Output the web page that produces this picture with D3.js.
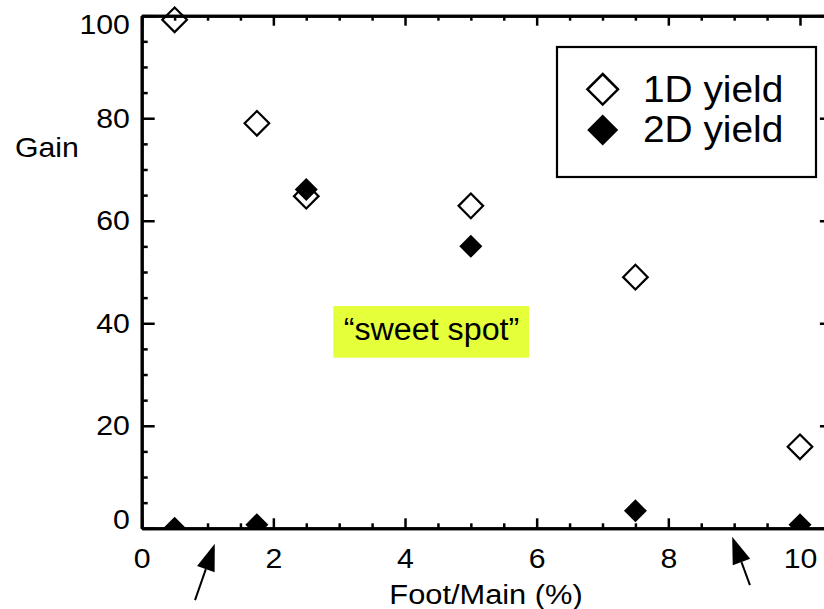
<!DOCTYPE html>
<html>
<head>
<meta charset="utf-8">
<script src="https://cdn.jsdelivr.net/npm/d3@7"></script>
<style>
  body { margin: 0; background: #fff; }
  svg { display: block; }
  text { font-family: "Liberation Sans", Arial, Helvetica, sans-serif; fill: #000; }
</style>
</head>
<body>
<svg id="chart" width="824" height="609"></svg>
<script>
// data
var footMain = [0.5, 1.75, 2.5, 5, 7.5, 10];
var yield1D  = [99.2, 79, 64.8, 62.9, 49, 15.9];
var yield2D  = [0, 0.7, 66.1, 55, 3.4, 0.7];
var xMajor = [0, 2, 4, 6, 8, 10];
var yMajor = [0, 20, 40, 60, 80, 100];
var legendLabels = ["1D yield", "2D yield"];
// the two arrows under the axis: tail and tip, in data units
var arrows = [
  {x0: 0.81, y0: -14, x1: 1.11, y1: -3},
  {x0: 9.24, y0: -11.1, x1: 8.97, y1: -1.64}
];
var note = "\u201csweet spot\u201d";

var svg = d3.select("#chart"),
    plotL = 141.7, plotR = 832.9, plotT = 15.7, plotB = 528.3;

var x = d3.scaleLinear().domain([0, 10.5]).range([plotL, plotR]);
var y = d3.scaleLinear().domain([0, 100]).range([plotB, plotT]);

var xMinor = d3.range(0, 10.51, 0.5).filter(function(v) { return v % 2 !== 0; });
var yMinor = d3.range(0, 100.1, 5).filter(function(v) { return v % 20 !== 0; });

function diamond(r) {
  return "M0," + (-r) + "L" + r + ",0L0," + r + "L" + (-r) + ",0Z";
}

// highlight box
svg.append("rect")
  .attr("x", 333.3).attr("y", 306)
  .attr("width", 195.7).attr("height", 51.7)
  .attr("fill", "#e6ff3b");
svg.append("text")
  .attr("transform", "translate(431.5,340) scale(1.04,1)")
  .attr("text-anchor", "middle")
  .style("font-size", "31px")
  .text(note);

// markers, clipped at the bottom axis
svg.append("clipPath").attr("id", "clip")
  .append("rect").attr("x", 0).attr("y", 0).attr("width", 824).attr("height", plotB);

var marks = svg.append("g").attr("clip-path", "url(#clip)");

marks.selectAll(".m2").data(footMain).enter().append("path")
  .attr("class", "m2")
  .attr("transform", function(d, i) { return "translate(" + x(d) + "," + y(yield2D[i]) + ")"; })
  .attr("d", diamond(11.5))
  .attr("fill", "#000");

marks.selectAll(".m1").data(footMain).enter().append("path")
  .attr("class", "m1")
  .attr("transform", function(d, i) { return "translate(" + x(d) + "," + y(yield1D[i]) + ")"; })
  .attr("d", diamond(12.3))
  .attr("fill", "none")
  .attr("stroke", "#000")
  .attr("stroke-width", 2.2);

// axes
function styleAxis(g) {
  g.select(".domain").attr("stroke-width", 3);
  g.selectAll(".tick line").attr("stroke-width", 2.5);
  g.selectAll(".tick text").style("font-size", "28px").attr("fill", "#000");
}

svg.append("g").attr("transform", "translate(0," + plotB + ")")
  .call(d3.axisBottom(x).tickValues(xMinor).tickSize(-5).tickSizeOuter(0).tickFormat(""))
  .call(styleAxis);
svg.append("g").attr("transform", "translate(0," + plotB + ")")
  .call(d3.axisBottom(x).tickValues(xMajor).tickSize(-10).tickSizeOuter(0).tickPadding(20).tickFormat(d3.format("d")))
  .call(styleAxis)
  .selectAll(".tick text").attr("transform", "scale(1.08,1)");

svg.append("g").attr("transform", "translate(0," + plotT + ")")
  .call(d3.axisTop(x).tickValues(xMinor).tickSize(-5).tickSizeOuter(0).tickFormat(""))
  .call(styleAxis);
svg.append("g").attr("transform", "translate(0," + plotT + ")")
  .call(d3.axisTop(x).tickValues(xMajor).tickSize(-10).tickSizeOuter(0).tickFormat(""))
  .call(styleAxis);

svg.append("g").attr("transform", "translate(" + plotL + ",0)")
  .call(d3.axisLeft(y).tickValues(yMinor).tickSize(-6).tickSizeOuter(0).tickFormat(""))
  .call(styleAxis);
var yAx = svg.append("g").attr("transform", "translate(" + plotL + ",0)")
  .call(d3.axisLeft(y).tickValues(yMajor).tickSize(-13).tickSizeOuter(0).tickPadding(11).tickFormat(d3.format("d")))
  .call(styleAxis);
yAx.selectAll(".tick text")
  .attr("transform", function(d) {
    var shift = d === 0 ? -9 : (d === 100 ? 9 : 0);
    return "translate(0," + shift + ") scale(1.08,1)";
  });

svg.append("g").attr("transform", "translate(" + plotR + ",0)")
  .call(d3.axisRight(y).tickValues(yMinor).tickSize(-6).tickSizeOuter(0).tickFormat(""))
  .call(styleAxis);
svg.append("g").attr("transform", "translate(" + plotR + ",0)")
  .call(d3.axisRight(y).tickValues(yMajor).tickSize(-13).tickSizeOuter(0).tickFormat(""))
  .call(styleAxis);

// axis titles
svg.append("text")
  .attr("transform", "translate(15,156.7) scale(1.08,1)")
  .style("font-size", "28px")
  .text("Gain");
svg.append("text")
  .attr("transform", "translate(486,604) scale(1.1,1)")
  .attr("text-anchor", "middle")
  .style("font-size", "28px")
  .text("Foot/Main (%)");

// legend
svg.append("rect")
  .attr("x", 557).attr("y", 47)
  .attr("width", 259).attr("height", 130)
  .attr("fill", "#fff")
  .attr("stroke", "#000").attr("stroke-width", 2.2);
svg.append("path")
  .attr("transform", "translate(602.7,89.3)")
  .attr("d", diamond(15.3))
  .attr("fill", "none").attr("stroke", "#000").attr("stroke-width", 2.5);
svg.append("path")
  .attr("transform", "translate(602.7,130)")
  .attr("d", diamond(15.5))
  .attr("fill", "#000");
svg.selectAll(".leg").data(legendLabels).enter().append("text")
  .attr("class", "leg")
  .attr("transform", function(d, i) { return "translate(643," + (101.7 + i * 40) + ") scale(1.05,1)"; })
  .style("font-size", "37px")
  .text(function(d) { return d; });

// arrows below the axis
arrows.forEach(function(a) {
  var tx = x(a.x0), ty = y(a.y0), hx = x(a.x1), hy = y(a.y1);
  var dx = hx - tx, dy = hy - ty, len = Math.sqrt(dx * dx + dy * dy);
  var ux = dx / len, uy = dy / len;
  var headLen = 27, halfW = 9.3;
  var bx = hx - ux * headLen, by = hy - uy * headLen;
  svg.append("line")
    .attr("x1", tx).attr("y1", ty).attr("x2", bx).attr("y2", by)
    .attr("stroke", "#000").attr("stroke-width", 2);
  svg.append("path")
    .attr("d", "M" + hx + "," + hy +
               "L" + (bx - uy * halfW) + "," + (by + ux * halfW) +
               "L" + (bx + uy * halfW) + "," + (by - ux * halfW) + "Z")
    .attr("fill", "#000");
});
</script>
</body>
</html>
